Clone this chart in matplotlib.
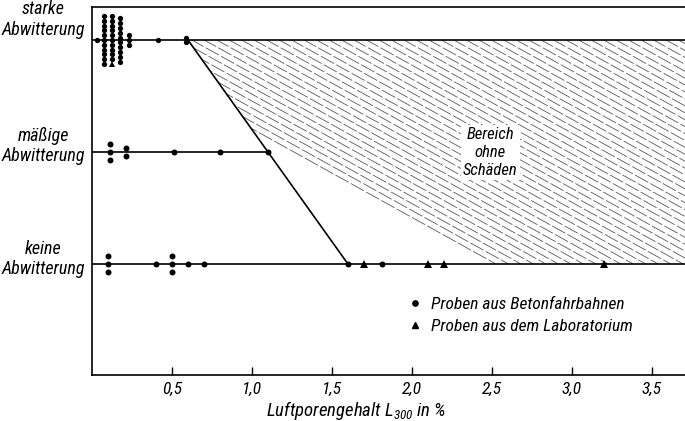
import numpy as np
import matplotlib
matplotlib.use("Agg")
import matplotlib.pyplot as plt
import matplotlib.transforms as mtransforms
from matplotlib import font_manager
from matplotlib.lines import Line2D
from matplotlib.patches import Polygon
from matplotlib.collections import LineCollection

# pick a narrow font if one is installed
names = {f.name for f in font_manager.fontManager.ttflist}
narrow = [n for n in ['Liberation Sans Narrow', 'DejaVu Sans Condensed', 'Roboto Condensed',
                      'Open Sans Condensed'] if n in names]
FONT = narrow[0] if narrow else 'DejaVu Sans'
SCALE = 1.0 if narrow else 0.86

plt.rcParams['font.family'] = [FONT, 'DejaVu Sans']
plt.rcParams['font.style'] = 'italic'
plt.rcParams['mathtext.fontset'] = 'custom'
plt.rcParams['mathtext.it'] = FONT + ':italic'
plt.rcParams['mathtext.rm'] = FONT + ':italic'

# rows: 0 = keine, 1 = maessige, 2 = starke Abwitterung
row_labels = ["keine\nAbwitterung", "mäßige\nAbwitterung", "starke\nAbwitterung"]

# air content, number of road samples, number of lab samples at that value
starke_x = [0.03, 0.075, 0.125, 0.175, 0.23, 0.41, 0.59]
starke_fahrbahn = [1, 11, 10, 10, 3, 1, 2]
starke_labor = [0, 0, 1, 0, 0, 0, 0]

maessig_x = [0.11, 0.21, 0.51, 0.80, 1.10]
maessig_fahrbahn = [3, 2, 1, 1, 1]
maessig_labor = [0, 0, 0, 0, 0]

keine_x = [0.10, 0.40, 0.50, 0.60, 0.70, 1.60, 1.70, 1.81, 2.10, 2.20, 3.20]
keine_fahrbahn = [3, 1, 3, 1, 1, 1, 0, 1, 0, 0, 0]
keine_labor = [0, 0, 0, 0, 0, 0, 1, 0, 1, 1, 1]

# boundary of the area without damage
grenze_x = [0.6, 1.6]
grenze_y = [2, 0]

xticks = [0.5, 1.0, 1.5, 2.0, 2.5, 3.0, 3.5]
xtick_labels = ["0,5", "1,0", "1,5", "2,0", "2,5", "3,0", "3,5"]

XMAX = 3.706


def plot_row(ax, y, xs, n_dot, n_tri, step, ms):
    # stack samples with the same value vertically, triangles at the bottom
    for x, nd, nt in zip(xs, n_dot, n_tri):
        n = nd + nt
        ys = y + ((n - 1) / 2 - np.arange(n)) * step
        if nd:
            ax.plot([x] * nd, ys[:nd], 'o', color='black', ms=ms, mew=0, zorder=5)
        if nt:
            ax.plot([x] * nt, ys[nd:], '^', color='black', ms=ms + 0.8, mew=0, zorder=5)


fig = plt.figure(figsize=(6.85, 4.21), dpi=100)
ax = fig.add_axes([0.1343, 0.1093, 0.8657, 0.8741])
ax.set_xlim(0, XMAX)
ax.set_ylim(-0.99, 2.295)

# hatched area "Bereich ohne Schaeden"
poly = Polygon([(grenze_x[0], grenze_y[0]), (XMAX + 0.1, 2), (XMAX + 0.1, 0),
                (grenze_x[1], grenze_y[1])], closed=True, fc='none', ec='none')
ax.add_patch(poly)
slope = -np.tan(np.radians(29)) * 160 / 112
run = 2.4 / -slope
segs = [[(c - 0.2, 2 - slope * 0.2), (c + run, 2 - 2.4)] for c in np.arange(0.0, 5.0, 0.078)]
lc = LineCollection(segs, colors='0.35', linewidths=0.6, linestyles=[(0, (18, 3))], zorder=1)
lc.set_clip_path(poly)
ax.add_collection(lc)
ax.plot(grenze_x, grenze_y, color='black', lw=1.2, zorder=3)

# row lines
ax.plot([0, XMAX], [2, 2], color='black', lw=1.2, zorder=3)
ax.plot([0, np.interp(1, grenze_y[::-1], grenze_x[::-1])], [1, 1], color='black', lw=1.2, zorder=3)
ax.plot([0, XMAX], [0, 0], color='black', lw=1.2, zorder=3)

plot_row(ax, 2, starke_x, starke_fahrbahn, starke_labor, 0.043, 3.8)
plot_row(ax, 1, maessig_x, maessig_fahrbahn, maessig_labor, 0.068, 4.3)
plot_row(ax, 0, keine_x, keine_fahrbahn, keine_labor, 0.068, 4.3)

ax.text(2.49, 1.0, "Bereich\nohne\nSchäden", ha='center', va='center', fontsize=12 * SCALE,
        linespacing=1.25, zorder=4, bbox=dict(fc='white', ec='none', pad=1.5))

# row labels left of the axis
trans = mtransforms.blended_transform_factory(fig.transFigure, ax.transData)
for y, lab, dy in zip([0, 1, 2], row_labels, [0.045, 0.054, 0.18]):
    ax.text(0.063, y + dy, lab, transform=trans, ha='center', va='center',
            fontsize=13 * SCALE, linespacing=1.2, clip_on=False)

for s in ['left', 'bottom', 'top']:
    ax.spines[s].set_linewidth(1.2)
ax.spines['right'].set_visible(False)
ax.set_yticks([])
ax.set_xticks(xticks, xtick_labels)
ax.tick_params(axis='x', direction='in', length=6, width=1, pad=5, labelsize=12.5 * SCALE)

fig.text(0.52, 0.026, r"Luftporengehalt $L_{300}$ in %", ha='center', va='center',
         fontsize=13.5 * SCALE)

handles = [Line2D([], [], ls='none', marker='o', color='black', ms=3.8),
           Line2D([], [], ls='none', marker='^', color='black', ms=4.6)]
fig.legend(handles, ["Proben aus Betonfahrbahnen", "Proben aus dem Laboratorium"],
           loc='upper left', bbox_to_anchor=(406 / 685, 1 - 297 / 421), frameon=False,
           fontsize=12.5 * SCALE, handlelength=1.0, handletextpad=0.45, borderpad=0,
           borderaxespad=0, labelspacing=0.4)

fig.savefig("out.png", dpi=100)
